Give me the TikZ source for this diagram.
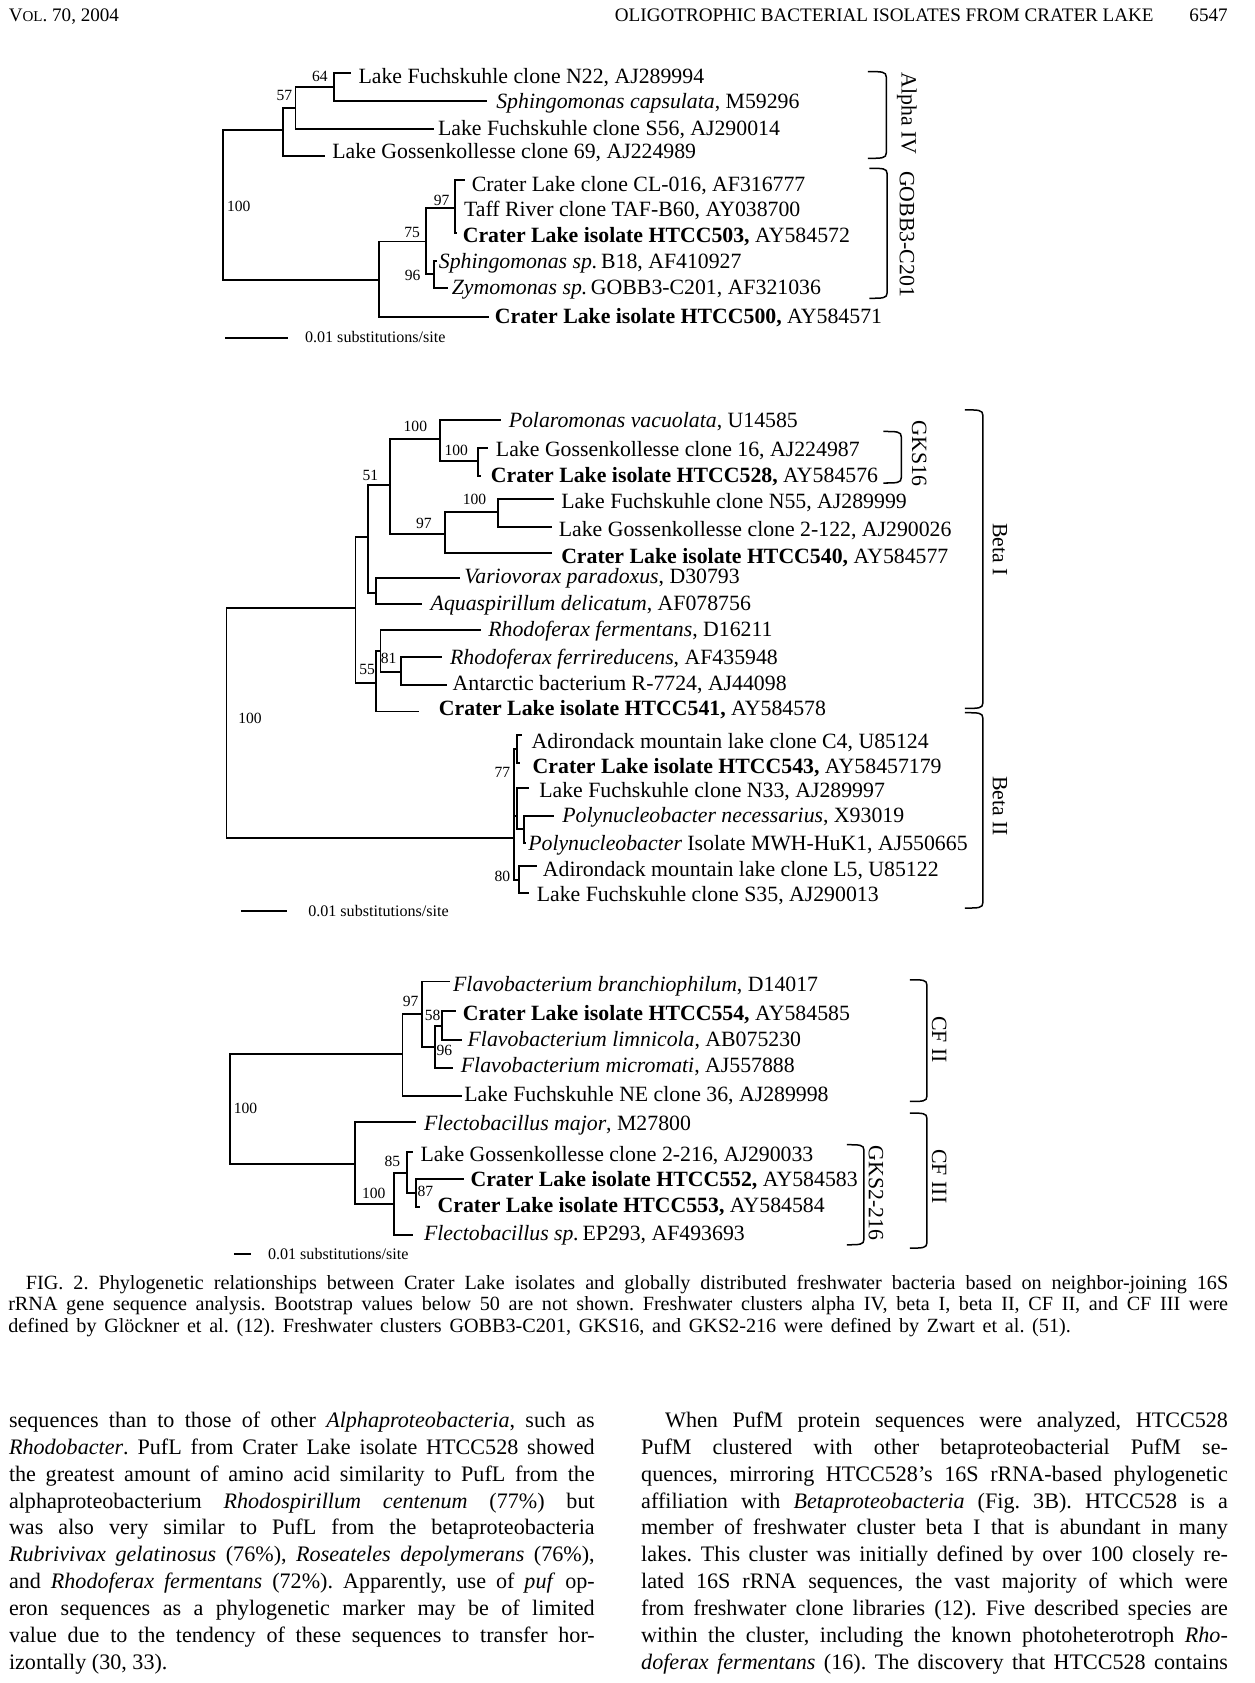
\documentclass[tikz,border=0pt]{standalone}
\usepackage{fontspec}
\setmainfont{Liberation Serif}
\newcommand\labfont{\fontsize{20.3}{24}\selectfont}
\newcommand\bsfont{\fontsize{14.5}{17}\selectfont}
\newcommand\scfont{\fontsize{15}{18}\selectfont}
\newcommand\bdfont{\fontsize{20.6}{25}\selectfont}
\newcommand\cptfont{\fontsize{18.8}{20}\selectfont}
\newcommand\hdfont{\fontsize{17.8}{21}\selectfont}
\newcommand\brkt[5]{\draw[brk] (#2,#4) .. controls (#3-4,#4) and (#3,#4) .. (#3,#4+5) -- (#3,#5-5) .. controls (#3,#5) and (#3-4,#5) .. (#2,#5);}
\tikzset{
  br/.style={line width=1.8pt},
  sbar/.style={line width=2pt},
  brk/.style={line width=1.4pt},
  lab/.style={anchor=base west, inner sep=0pt, font=\labfont, yshift=-6.5pt},
  bs/.style={anchor=center, inner sep=0pt, font=\bsfont},
  cl/.style={rotate=-90, anchor=center, inner sep=0pt, font=\labfont},
  sct/.style={anchor=base west, inner sep=0pt, font=\scfont, yshift=-5pt},
  bt/.style={anchor=base west, inner sep=0pt, font=\bdfont},
  ct/.style={anchor=base west, inner sep=0pt, font=\cptfont},
  hd/.style={inner sep=0pt, font=\hdfont},
}
\begin{document}
\frenchspacing
\begin{tikzpicture}[x=1pt,y=-1pt]
\path[use as bounding box, fill=white] (0,0) rectangle (1169,1568);

% ---------- header
\node[hd, anchor=base west] (hdl) at (8,20) {V{\fontsize{14}{17}\selectfont OL}. 70, 2004};
\node[hd, anchor=base east] (hdt) at (1075,20) {OLIGOTROPHIC BACTERIAL ISOLATES FROM CRATER LAKE};
\node[hd, anchor=base east] (hdp) at (1144,20) {6547};

% ---------- tree 1
\coordinate (a0) at (207.7,192);
\coordinate (aA) at (263.3,121);
\coordinate (aB) at (275.3,100.6);
\coordinate (aC) at (311.2,80.7);
\coordinate (aN22) at (326.6,67.7);
\coordinate (aSc) at (453.6,93.8);
\coordinate (aS56) at (404.4,120.5);
\coordinate (aG69) at (302.6,145.3);
\coordinate (aD) at (353.1,261);
\coordinate (aE) at (396.7,225);
\coordinate (aF) at (423.7,194);
\coordinate (aCL) at (433.5,167.7);
\coordinate (aTaff) at (423.7,192.5);
\coordinate (a503) at (425.5,216.7);
\coordinate (aH) at (404.4,255.7);
\coordinate (aB18) at (407.5,242.8);
\coordinate (aZy) at (417.3,268.6);
\coordinate (a500) at (455.7,295);
\draw[br] (a0) |- (aA);
\draw[br] (a0) |- (aD);
\draw[br] (aA) |- (aB);
\draw[br] (aA) |- (aG69);
\draw[br] (aB) |- (aC);
\draw[br] (aB) |- (aS56);
\draw[br] (aC) |- (aN22);
\draw[br] (aC) |- (aSc);
\draw[br] (aD) |- (aE);
\draw[br] (aD) |- (a500);
\draw[br] (aE) |- (aF);
\draw[br] (aE) |- (aH);
\draw[br] (aF) |- (aCL);
\draw[br] (aF) |- (aTaff);
\draw[br] (aF) |- (a503);
\draw[br] (aH) |- (aB18);
\draw[br] (aH) |- (aZy);

\node[lab] (lN22) at (333.9,71) {Lake Fuchskuhle clone N22, AJ289994};
\node[lab] (lSc) at (462.2,94.7) {\textit{Sphingomonas capsulata}, M59296};
\node[lab] (lS56) at (407.9,119.5) {Lake Fuchskuhle clone S56, AJ290014};
\node[lab] (lG69) at (309.5,141.3) {Lake Gossenkollesse clone 69, AJ224989};
\node[lab] (lCL) at (439.5,172.3) {Crater Lake clone CL-016, AF316777};
\node[lab] (lTaff) at (432.2,195) {Taff River clone TAF-B60, AY038700};
\node[lab] (l503) at (431,219) {\textbf{Crater Lake isolate HTCC503,} AY584572};
\node[lab] (lB18) at (408.7,243.7) {\textit{Sphingomonas sp.}\,B18, AF410927};
\node[lab] (lZy) at (420.7,267.6) {\textit{Zymomonas sp.}\,GOBB3-C201, AF321036};
\node[lab] (l500) at (460.9,295) {\textbf{Crater Lake isolate HTCC500,} AY584571};

\node[bs] (b64) at (298,71) {64};
\node[bs] (b57) at (265,89.4) {57};
\node[bs] (b100a) at (222.5,192.5) {100};
\node[bs] (b97a) at (411.5,187) {97};
\node[bs] (b75) at (384,217) {75};
\node[bs] (b96a) at (384.5,257) {96};

\coordinate (s1a) at (210,315);
\coordinate (s1b) at (268,315);
\draw[sbar] (s1a) -- (s1b);
\node[sct] (s1t) at (284,314) {0.01 substitutions/site};

\brkt{k1}{808.6}{825.7}{66.7}{147.5}
\node[cl] (cAlpha) at (845,105.6) {Alpha IV};
\brkt{k2}{810}{826.5}{156.8}{277.9}
\node[cl] (cGobb) at (845,218) {GOBB3-C201};

% ---------- tree 2
\coordinate (b0) at (211,673.7);
\coordinate (bU) at (331.2,566.7);
\coordinate (bT) at (343.1,500.5);
\coordinate (bQ) at (363.1,451.8);
\coordinate (bR) at (409.6,409.2);
\coordinate (bPol) at (466.7,391.2);
\coordinate (bN100) at (445.3,429.1);
\coordinate (bLG16) at (454.8,417.6);
\coordinate (b528) at (447.7,443.4);
\coordinate (bN97) at (414.4,497.4);
\coordinate (bN100c) at (464.3,476.6);
\coordinate (bN55) at (516.6,464.8);
\coordinate (bG2122) at (514.2,491.2);
\coordinate (b540) at (514.2,515.4);
\coordinate (bS) at (350.2,552.1);
\coordinate (bVar) at (428.7,538.7);
\coordinate (bAqu) at (393,562.6);
\coordinate (bV) at (350.2,636.5);
\coordinate (bW) at (354.5,606.3);
\coordinate (bRhF) at (447.7,586.8);
\coordinate (bN81) at (374,625.7);
\coordinate (bRhf2) at (412,611.7);
\coordinate (bAnt) at (416.8,638.1);
\coordinate (b541) at (390.6,662.9);
\coordinate (bII) at (478.5,780.8);
\coordinate (bN77) at (481.5,698);
\coordinate (bC4) at (486,684.6);
\coordinate (b543) at (484,711);
\coordinate (bM) at (481.5,760);
\coordinate (bN33) at (492.8,734.3);
\coordinate (bPN) at (488,772);
\coordinate (bPnec) at (516.6,760);
\coordinate (bMWH) at (490,785.5);
\coordinate (bN80) at (483.3,819.6);
\coordinate (bL5) at (499.9,807.2);
\coordinate (bS35) at (492.8,832);

\draw[br] (b0) |- (bU);
\draw[br] (b0) |- (bII);
\draw[br] (bU) |- (bT);
\draw[br] (bU) |- (bV);
\draw[br] (bT) |- (bQ);
\draw[br] (bT) |- (bS);
\draw[br] (bQ) |- (bR);
\draw[br] (bQ) |- (bN97);
\draw[br] (bR) |- (bPol);
\draw[br] (bR) |- (bN100);
\draw[br] (bN100) |- (bLG16);
\draw[br] (bN100) |- (b528);
\draw[br] (bN97) |- (bN100c);
\draw[br] (bN97) |- (b540);
\draw[br] (bN100c) |- (bN55);
\draw[br] (bN100c) |- (bG2122);
\draw[br] (bS) |- (bVar);
\draw[br] (bS) |- (bAqu);
\draw[br] (bV) |- (bW);
\draw[br] (bV) |- (b541);
\draw[br] (bW) |- (bRhF);
\draw[br] (bW) |- (bN81);
\draw[br] (bN81) |- (bRhf2);
\draw[br] (bN81) |- (bAnt);
\draw[br] (bII) |- (bN77);
\draw[br] (bII) |- (bM);
\draw[br] (bII) |- (bN80);
\draw[br] (bN77) |- (bC4);
\draw[br] (bN77) |- (b543);
\draw[br] (bM) |- (bN33);
\draw[br] (bM) |- (bPN);
\draw[br] (bPN) |- (bPnec);
\draw[br] (bPN) |- (bMWH);
\draw[br] (bN80) |- (bL5);
\draw[br] (bN80) |- (bS35);

\node[lab] (lPol) at (473.8,392) {\textit{Polaromonas vacuolata}, U14585};
\node[lab] (lLG16) at (461.9,418.5) {Lake Gossenkollesse clone 16, AJ224987};
\node[lab] (l528) at (457.2,443.4) {\textbf{Crater Lake isolate HTCC528,} AY584576};
\node[lab] (lN55) at (522.7,467.3) {Lake Fuchskuhle clone N55, AJ289999};
\node[lab] (lG2122) at (520.4,493) {Lake Gossenkollesse clone 2-122, AJ290026};
\node[lab] (l540) at (522.7,518.5) {\textbf{Crater Lake isolate HTCC540,} AY584577};
\node[lab] (lVar) at (432.5,537.2) {\textit{Variovorax paradoxus}, D30793};
\node[lab] (lAqu) at (401.1,562.6) {\textit{Aquaspirillum delicatum}, AF078756};
\node[lab] (lRhF) at (454.8,586.8) {\textit{Rhodoferax fermentans}, D16211};
\node[lab] (lRhf2) at (419.1,612.3) {\textit{Rhodoferax ferrireducens}, AF435948};
\node[lab] (lAnt) at (421.5,637.1) {Antarctic bacterium R-7724, AJ44098};
\node[lab] (l541) at (408.7,659.8) {\textbf{Crater Lake isolate HTCC541,} AY584578};
\node[lab] (lC4) at (495.2,691) {Adirondack mountain lake clone C4, U85124};
\node[lab] (l543) at (496.1,714) {\textbf{Crater Lake isolate HTCC543,} AY58457179};
\node[lab] (lN33) at (502.3,736.4) {Lake Fuchskuhle clone N33, AJ289997};
\node[lab] (lPnec) at (523.7,760) {\textit{Polynucleobacter necessarius}, X93019};
\node[lab] (lMWH) at (492,786) {\textit{Polynucleobacter} Isolate MWH-HuK1, AJ550665};
\node[lab] (lL5) at (505.6,810) {Adirondack mountain lake clone L5, U85122};
\node[lab] (lS35) at (499.9,833.6) {Lake Fuchskuhle clone S35, AJ290013};

\node[bs] (c100a) at (387,397.4) {100};
\node[bs] (c100b) at (425,419.8) {100};
\node[bs] (c51) at (345,442.5) {51};
\node[bs] (c100c) at (442,465) {100};
\node[bs] (c97) at (395,487.5) {97};
\node[bs] (c81) at (362,613) {81};
\node[bs] (c55) at (342,624) {55};
\node[bs] (c100d) at (233,669) {100};
\node[bs] (c77) at (468,720) {77};
\node[bs] (c80) at (468,816.5) {80};

\coordinate (s2a) at (224.3,849);
\coordinate (s2b) at (267.1,849);
\draw[sbar] (s2a) -- (s2b);
\node[sct] (s2t) at (287,849) {0.01 substitutions/site};

\brkt{k3}{823}{839.7}{402}{450}
\node[cl] (cGKS) at (856.3,422.3) {GKS16};
\brkt{k4}{899}{915.7}{381.9}{660}
\node[cl] (cB1) at (931.6,512) {Beta I};
\brkt{k5}{899}{915.7}{664}{846}
\node[cl] (cB2) at (931.6,751) {Beta II};

% ---------- tree 3
\coordinate (d0) at (214.3,1033);
\coordinate (dII) at (375,981.8);
\coordinate (dN97) at (393.1,944.5);
\coordinate (dFbr) at (418.8,914.4);
\coordinate (dN96) at (405.3,975.5);
\coordinate (dN58) at (412,955.8);
\coordinate (d554) at (424.7,942.3);
\coordinate (dLim) at (430.1,969.3);
\coordinate (dMic) at (422,995.1);
\coordinate (dNE) at (430.1,1020.9);
\coordinate (dIII) at (330.8,1084.2);
\coordinate (dFma) at (387.2,1045.7);
\coordinate (dN100) at (366.9,1121.6);
\coordinate (dN85) at (379.5,1092.9);
\coordinate (dLG) at (385,1073.7);
\coordinate (dN87) at (387.2,1111.6);
\coordinate (d552) at (432.4,1098.5);
\coordinate (d553) at (391.7,1124.6);
\coordinate (dFsp) at (385,1150.4);

\draw[br] (d0) |- (dII);
\draw[br] (d0) |- (dIII);
\draw[br] (dII) |- (dN97);
\draw[br] (dII) |- (dNE);
\draw[br] (dN97) |- (dFbr);
\draw[br] (dN97) |- (dN96);
\draw[br] (dN96) |- (dN58);
\draw[br] (dN96) |- (dMic);
\draw[br] (dN58) |- (d554);
\draw[br] (dN58) |- (dLim);
\draw[br] (dIII) |- (dFma);
\draw[br] (dIII) |- (dN100);
\draw[br] (dN100) |- (dN85);
\draw[br] (dN100) |- (dFsp);
\draw[br] (dN85) |- (dLG);
\draw[br] (dN85) |- (dN87);
\draw[br] (dN87) |- (d552);
\draw[br] (dN87) |- (d553);

\node[lab] (lFbr) at (422,917.5) {\textit{Flavobacterium branchiophilum}, D14017};
\node[lab] (l554) at (431,943.9) {\textbf{Crater Lake isolate HTCC554,} AY584585};
\node[lab] (lLim) at (435.5,968.7) {\textit{Flavobacterium limnicola}, AB075230};
\node[lab] (lMic) at (429.2,993) {\textit{Flavobacterium micromati}, AJ557888};
\node[lab] (lNE) at (432.4,1020) {Lake Fuchskuhle NE clone 36, AJ289998};
\node[lab] (lFma) at (394.9,1046.3) {\textit{Flectobacillus major}, M27800};
\node[lab] (lLG) at (391.7,1075.2) {Lake Gossenkollesse clone 2-216, AJ290033};
\node[lab] (l552) at (438.2,1099.1) {\textbf{Crater Lake isolate HTCC552,} AY584583};
\node[lab] (l553) at (407.5,1123.4) {\textbf{Crater Lake isolate HTCC553,} AY584584};
\node[lab] (lFsp) at (394.9,1149.4) {\textit{Flectobacillus sp.}\,EP293, AF493693};

\node[bs] (e97) at (382.6,933) {97};
\node[bs] (e58) at (403,946) {58};
\node[bs] (e96) at (414,979) {96};
\node[bs] (e100a) at (228.7,1032.4) {100};
\node[bs] (e85) at (365.6,1082) {85};
\node[bs] (e100b) at (348.3,1112) {100};
\node[bs] (e87) at (396.3,1110) {87};

\coordinate (s3a) at (217.9,1168);
\coordinate (s3b) at (233.7,1168);
\draw[sbar] (s3a) -- (s3b);
\node[sct] (s3t) at (249.5,1168) {0.01 substitutions/site};

\brkt{k6}{847.7}{863.6}{912.8}{1026.2}
\node[cl] (cCF2) at (875,968.7) {CF II};
\brkt{k7}{847.7}{863.6}{1037}{1162.8}
\node[cl] (cCF3) at (875,1096) {CF III};
\brkt{k8}{789}{804.9}{1066.5}{1159.7}
\node[cl] (cGKS2) at (816,1111.6) {GKS2-216};

% ---------- caption
\node[ct] (cap1) at (24,1201) {\makebox[1120pt][s]{FIG. 2. Phylogenetic relationships between Crater Lake isolates and globally distributed freshwater bacteria based on neighbor-joining 16S}};
\node[ct] (cap2) at (7.5,1221) {\makebox[1136.5pt][s]{rRNA gene sequence analysis. Bootstrap values below 50 are not shown. Freshwater clusters alpha IV, beta I, beta II, CF II, and CF III were}};
\node[ct] (cap3) at (7.5,1241) {\makebox[990pt][s]{defined by Glöckner et al. (12). Freshwater clusters GOBB3-C201, GKS16, and GKS2-216 were defined by Zwart et al. (51).}};

% ---------- body, left column
\node[bt] (p1) at (8.2,1330) {\makebox[545.7pt][s]{sequences than to those of other \textit{Alphaproteobacteria}, such as}};
\node[bt] (p2) at (8.2,1355) {\makebox[545.7pt][s]{\textit{Rhodobacter}. PufL from Crater Lake isolate HTCC528 showed}};
\node[bt] (p3) at (8.2,1380) {\makebox[545.7pt][s]{the greatest amount of amino acid similarity to PufL from the}};
\node[bt] (p4) at (8.2,1405) {\makebox[545.7pt][s]{alphaproteobacterium \textit{Rhodospirillum centenum} (77\%) but}};
\node[bt] (p5) at (8.2,1430) {\makebox[545.7pt][s]{was also very similar to PufL from the betaproteobacteria}};
\node[bt] (p6) at (8.2,1455) {\makebox[545.7pt][s]{\textit{Rubrivivax gelatinosus} (76\%), \textit{Roseateles depolymerans} (76\%),}};
\node[bt] (p7) at (8.2,1480) {\makebox[545.7pt][s]{and \textit{Rhodoferax fermentans} (72\%). Apparently, use of \textit{puf} op-}};
\node[bt] (p8) at (8.2,1505) {\makebox[545.7pt][s]{eron sequences as a phylogenetic marker may be of limited}};
\node[bt] (p9) at (8.2,1530) {\makebox[545.7pt][s]{value due to the tendency of these sequences to transfer hor-}};
\node[bt] (p10) at (8.2,1555) {izontally (30, 33).};

% ---------- body, right column
\node[bt] (q1) at (619.5,1330) {\makebox[524.3pt][s]{When PufM protein sequences were analyzed, HTCC528}};
\node[bt] (q2) at (597.2,1355) {\makebox[546.6pt][s]{PufM clustered with other betaproteobacterial PufM se-}};
\node[bt] (q3) at (597.2,1380) {\makebox[546.6pt][s]{quences, mirroring HTCC528's 16S rRNA-based phylogenetic}};
\node[bt] (q4) at (597.2,1405) {\makebox[546.6pt][s]{affiliation with \textit{Betaproteobacteria} (Fig. 3B). HTCC528 is a}};
\node[bt] (q5) at (597.2,1430) {\makebox[546.6pt][s]{member of freshwater cluster beta I that is abundant in many}};
\node[bt] (q6) at (597.2,1455) {\makebox[546.6pt][s]{lakes. This cluster was initially defined by over 100 closely re-}};
\node[bt] (q7) at (597.2,1480) {\makebox[546.6pt][s]{lated 16S rRNA sequences, the vast majority of which were}};
\node[bt] (q8) at (597.2,1505) {\makebox[546.6pt][s]{from freshwater clone libraries (12). Five described species are}};
\node[bt] (q9) at (597.2,1530) {\makebox[546.6pt][s]{within the cluster, including the known photoheterotroph \textit{Rho-}}};
\node[bt] (q10) at (597.2,1555) {\makebox[546.6pt][s]{\textit{doferax fermentans} (16). The discovery that HTCC528 contains}};
\end{tikzpicture}
\end{document}
